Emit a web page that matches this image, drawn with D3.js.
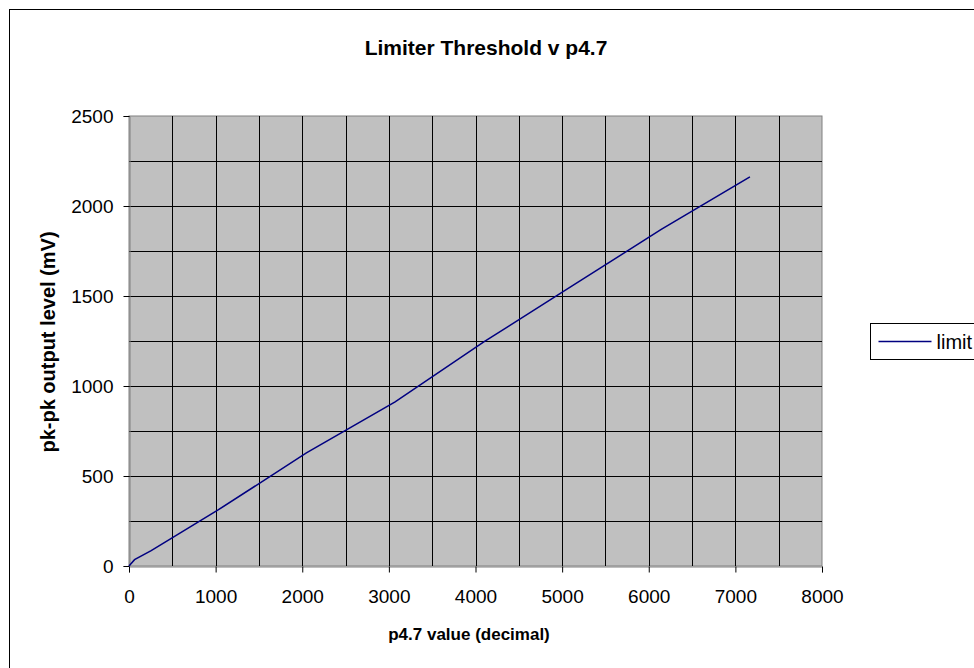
<!DOCTYPE html>
<html>
<head>
<meta charset="utf-8">
<script src="https://cdn.jsdelivr.net/npm/d3@7"></script>
<style>
  body { margin: 0; background: #fff; }
  svg { display: block; font-family: Arial, "Liberation Sans", sans-serif; }
</style>
</head>
<body>
<script>
// Chart settings
const width = 974;
const height = 668;
const plot = { left: 129, right: 822, top: 116, bottom: 566 };

// Data
const p47 = [0, 64, 256, 512, 1024, 2048, 3072, 4096, 5120, 6144, 7168];
const limit = [0, 35, 85, 160, 310, 628, 912, 1245, 1557, 1870, 2162];
const xTicks = [0, 1000, 2000, 3000, 4000, 5000, 6000, 7000, 8000];
const yTicks = [0, 500, 1000, 1500, 2000, 2500];

const svg = d3.select('body')
  .append('svg')
  .attr('width', width)
  .attr('height', height);

// chart border (runs off the window on the right and bottom)
svg.append('rect')
  .attr('x', 9.5).attr('y', 9.5)
  .attr('width', 1000).attr('height', 700)
  .attr('fill', '#fff')
  .attr('stroke', '#000');

const x = d3.scaleLinear().domain([0, 8000]).range([plot.left, plot.right]);
const y = d3.scaleLinear().domain([0, 2500]).range([plot.bottom, plot.top]);

// plot area
svg.append('rect')
  .attr('x', plot.left).attr('y', plot.top)
  .attr('width', plot.right - plot.left)
  .attr('height', plot.bottom - plot.top)
  .attr('fill', '#c0c0c0')
  .attr('stroke', '#808080');

// grid lines
svg.append('g')
  .selectAll('line')
  .data(d3.range(500, 8000, 500))
  .enter()
  .append('line')
  .attr('x1', d => Math.round(x(d)) + 0.5)
  .attr('x2', d => Math.round(x(d)) + 0.5)
  .attr('y1', plot.top)
  .attr('y2', plot.bottom)
  .attr('stroke', '#000');

svg.append('g')
  .selectAll('line')
  .data(d3.range(250, 2500, 250))
  .enter()
  .append('line')
  .attr('x1', plot.left)
  .attr('x2', plot.right)
  .attr('y1', d => Math.round(y(d)) + 0.5)
  .attr('y2', d => Math.round(y(d)) + 0.5)
  .attr('stroke', '#000');

// axes
svg.append('g')
  .attr('transform', `translate(0, ${plot.bottom + 0.5})`)
  .call(d3.axisBottom(x).tickValues(xTicks).tickFormat(d3.format('d')).tickSize(6).tickPadding(17))
  .call(g => g.select('.domain').attr('stroke', '#808080'))
  .call(g => g.selectAll('.tick line').attr('stroke', '#000'))
  .call(g => g.selectAll('text').attr('font-size', 19).attr('fill', '#000'));

svg.append('g')
  .attr('transform', `translate(${plot.left + 0.5}, 0)`)
  .call(d3.axisLeft(y).tickValues(yTicks).tickFormat(d3.format('d')).tickSize(6).tickPadding(10))
  .call(g => g.select('.domain').attr('stroke', '#808080'))
  .call(g => g.selectAll('.tick line').attr('stroke', '#000'))
  .call(g => g.selectAll('text').attr('font-size', 19).attr('fill', '#000'));

// series line
const line = d3.line()
  .x((d, i) => x(p47[i]))
  .y(d => y(d));

svg.append('path')
  .datum(limit)
  .attr('d', line)
  .attr('fill', 'none')
  .attr('stroke', '#000080')
  .attr('stroke-width', 1.5);

// titles
svg.append('text')
  .attr('x', 486).attr('y', 55)
  .attr('text-anchor', 'middle')
  .attr('font-size', 21).attr('font-weight', 'bold')
  .text('Limiter Threshold v p4.7');

svg.append('text')
  .attr('x', 469).attr('y', 640)
  .attr('text-anchor', 'middle')
  .attr('font-size', 17).attr('font-weight', 'bold')
  .text('p4.7 value (decimal)');

svg.append('text')
  .attr('transform', 'translate(55, 342) rotate(-90)')
  .attr('text-anchor', 'middle')
  .attr('font-size', 20).attr('font-weight', 'bold')
  .text('pk-pk output level (mV)');

// legend
const legend = svg.append('g').attr('transform', 'translate(870.5, 323.5)');
legend.append('rect')
  .attr('width', 120).attr('height', 36)
  .attr('fill', '#fff').attr('stroke', '#000');
legend.append('line')
  .attr('x1', 8).attr('x2', 61)
  .attr('y1', 18).attr('y2', 18)
  .attr('stroke', '#000080').attr('stroke-width', 1.5);
legend.append('text')
  .attr('x', 66).attr('y', 25)
  .attr('font-size', 20)
  .text('limit');
</script>
</body>
</html>
